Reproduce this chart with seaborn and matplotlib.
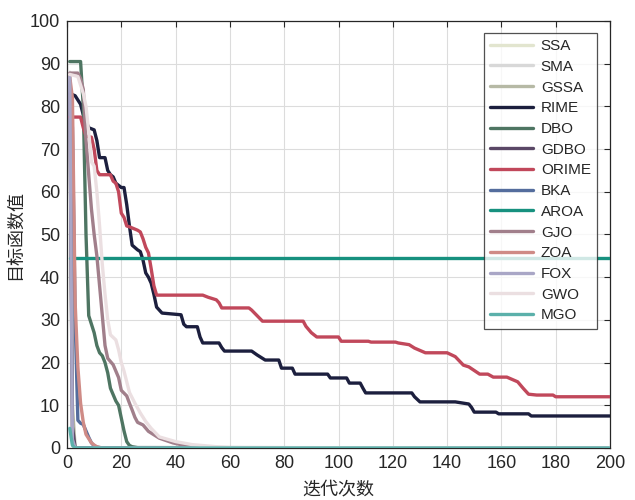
import matplotlib
matplotlib.use("Agg")
import matplotlib.pyplot as plt
import seaborn as sns
import pandas as pd

# ---------------- data (breakpoints) ----------------
algorithms = ["SSA", "SMA", "GSSA", "RIME", "DBO", "GDBO", "ORIME", "BKA",
              "AROA", "GJO", "ZOA", "FOX", "GWO", "MGO"]

colors = ["#e2e5cf", "#d8d8d8", "#b6b9a5", "#1c1f3e", "#4e7562", "#5a4766",
          "#c1485b", "#546d9d", "#17917f", "#a17f8b", "#cf8b86", "#a9a6c6",
          "#ebdfe1", "#5bb0aa"]

ssa = [(1, 86), (2, 3), (3, 0.05), (200, 0)]
sma = [(1, 88), (2, 1), (3, 0), (200, 0)]
gssa = [(1, 85), (2, 10), (3, 0), (200, 0)]
rime = [(1, 83), (3, 82.5), (4, 81.5), (5, 80.5), (6, 78), (8, 75), (10, 74.5),
        (11, 72), (12, 68), (14, 68), (15, 65), (16, 64), (17, 63.5), (18, 62),
        (20, 61), (21, 61), (22, 57), (23, 52), (24, 47.5), (26, 46.4),
        (27, 46), (28, 44), (29, 41), (30, 40), (31, 38.6), (32, 36), (33, 33),
        (35, 31.6), (42, 31.2), (43, 29), (44, 28.4), (48, 28.4), (49, 26),
        (50, 24.6), (56, 24.6), (57, 23.5), (58, 22.7), (68, 22.7), (70, 21.8),
        (72, 21), (73, 20.6), (78, 20.6), (79, 18.7), (83, 18.7), (84, 17.3),
        (96, 17.3), (97, 16.4), (103, 16.4), (104, 15.2), (108, 15.2),
        (109, 14), (110, 12.9), (127, 12.9), (128, 12), (130, 10.8),
        (143, 10.8), (148, 10.3), (149, 9.5), (150, 8.4), (158, 8.4),
        (159, 8.0), (170, 8.0), (171, 7.5), (200, 7.5)]
dbo = [(1, 90.5), (5, 90.5), (6, 80), (7, 50), (8, 31), (9, 29), (10, 27),
       (11, 24), (12, 22.3), (13, 21.6), (14, 20), (15, 17.6), (16, 14),
       (17, 12.5), (18, 11), (19, 10), (20, 7), (21, 4), (22, 1.5), (23, 0.6),
       (24, 0.3), (26, 0.1), (200, 0)]
gdbo = [(1, 86), (2, 5), (3, 0), (200, 0)]
orime = [(1, 77.5), (5, 77.5), (6, 75), (7, 73), (9, 72.8), (10, 70),
         (11, 65), (12, 64), (16, 64), (17, 62.5), (18, 62), (19, 60),
         (20, 55), (21, 54), (22, 52), (23, 51.8), (26, 51), (27, 50.6),
         (28, 49), (29, 47), (30, 45.7), (31, 42), (32, 38), (33, 35.8),
         (50, 35.8), (52, 35.3), (55, 34.7), (56, 34), (57, 32.8), (67, 32.8),
         (68, 32.3), (70, 31), (72, 29.7), (87, 29.7), (88, 28.5), (90, 27),
         (92, 26), (100, 26), (101, 25), (111, 25), (112, 24.8), (121, 24.8),
         (122, 24.6), (126, 24.2), (128, 23.4), (132, 22.3), (140, 22.3),
         (143, 21.4), (146, 19.4), (148, 19), (152, 17.3), (155, 17.3),
         (157, 16.6), (162, 16.6), (166, 15.5), (168, 14), (170, 12.6),
         (173, 12.4), (179, 12.4), (180, 12.0), (200, 12.0)]
bka = [(1, 86), (2, 75), (3, 30), (4, 6.5), (5, 5.8), (6, 5.5), (7, 4),
       (8, 2.5), (9, 1.2), (10, 0.5), (11, 0.2), (13, 0), (200, 0)]
aroa = [(1, 44.5), (200, 44.5)]
gjo = [(1, 87.8), (4, 87.8), (5, 86.5), (6, 84), (7, 72), (8, 64), (9, 56),
       (10, 50), (11, 45), (12, 38), (13, 31), (14, 24), (15, 21),
       (17, 19.5), (18, 18), (19, 16.5), (20, 13.5), (22, 12.2), (23, 10.5),
       (24, 8.9), (25, 7.2), (26, 6), (28, 5.4), (30, 3.9), (31, 3.5),
       (34, 2.3), (39, 1.2), (44, 0.5), (50, 0.1), (200, 0)]
zoa = [(1, 87), (2, 82), (3, 34), (4, 19), (5, 10.5), (6, 6), (7, 3.2),
       (8, 2.2), (9, 1.2), (10, 0.7), (11, 0.3), (13, 0), (200, 0)]
fox = [(1, 87), (2, 2), (3, 0), (200, 0)]
gwo = [(1, 87.5), (4, 87), (6, 83), (7, 80), (8, 74), (9, 67), (10, 66),
       (11, 60), (12, 52), (13, 43), (14, 36), (15, 30), (16, 26.5),
       (18, 25.3), (19, 23), (20, 20), (21, 18), (22, 15.5), (23, 13),
       (25, 10.5), (27, 8.2), (29, 6.2), (31, 4.6), (34, 2.6), (40, 1.5),
       (46, 0.8), (55, 0.3), (60, 0.1), (200, 0)]
mgo = [(1, 4.6), (2, 0.6), (3, 0), (200, 0)]

series = [ssa, sma, gssa, rime, dbo, gdbo, orime, bka, aroa, gjo, zoa, fox,
          gwo, mgo]

x_ticks = list(range(0, 201, 20))
y_ticks = list(range(0, 101, 10))
x_label = "迭代次数"
y_label = "目标函数值"

# ---------------- build long-form table ----------------
rows = []
for name, pts in zip(algorithms, series):
    for i, (xv, yv) in enumerate(pts):
        rows.append({"alg": name, "iter": xv, "val": yv, "order": i})
df = pd.DataFrame(rows)

sns.set_theme(style="white")
plt.rcParams["font.family"] = ["Liberation Sans", "Noto Sans CJK SC", "DejaVu Sans"]
plt.rcParams["axes.edgecolor"] = "#262626"

fig = plt.figure(figsize=(6.35, 5.0), dpi=100)
ax = fig.add_axes([67 / 635, 1 - 448 / 500, 543 / 635, 427 / 500])

palette = dict(zip(algorithms, colors))
for k, name in enumerate(algorithms):
    sub = df[df["alg"] == name]
    sns.lineplot(data=sub, x="iter", y="val", color=palette[name],
                 linewidth=2.4, sort=False, estimator=None, ax=ax,
                 label=name, zorder=2 + k)

ax.set_xlim(0, 200)
ax.set_ylim(0, 100)
ax.set_xticks(x_ticks)
ax.set_yticks(y_ticks)
ax.grid(True, color="#dcdcdc", linewidth=0.8, zorder=0)
ax.set_axisbelow(True)
ax.tick_params(direction="in", length=4, width=0.8, top=True, right=True,
               labelsize=13, colors="#262626", pad=5)
for s in ax.spines.values():
    s.set_linewidth(0.9)
    s.set_color("#262626")

cjk = ["Noto Sans CJK SC", "DejaVu Sans"]
ax.set_xlabel(x_label, fontsize=13, family=cjk, color="#262626", labelpad=6)
ax.set_ylabel(y_label, fontsize=13, family=cjk, color="#262626", labelpad=4)

leg = ax.legend(loc="upper right", bbox_to_anchor=(0.976, 0.972),
                borderaxespad=0, frameon=True, fancybox=False,
                edgecolor="#262626", fontsize=11, labelspacing=0.44,
                handlelength=2.8, handletextpad=0.5, borderpad=0.4)
leg.get_frame().set_linewidth(0.9)
leg.set_zorder(50)

fig.savefig("out.png", dpi=100, facecolor="white")
